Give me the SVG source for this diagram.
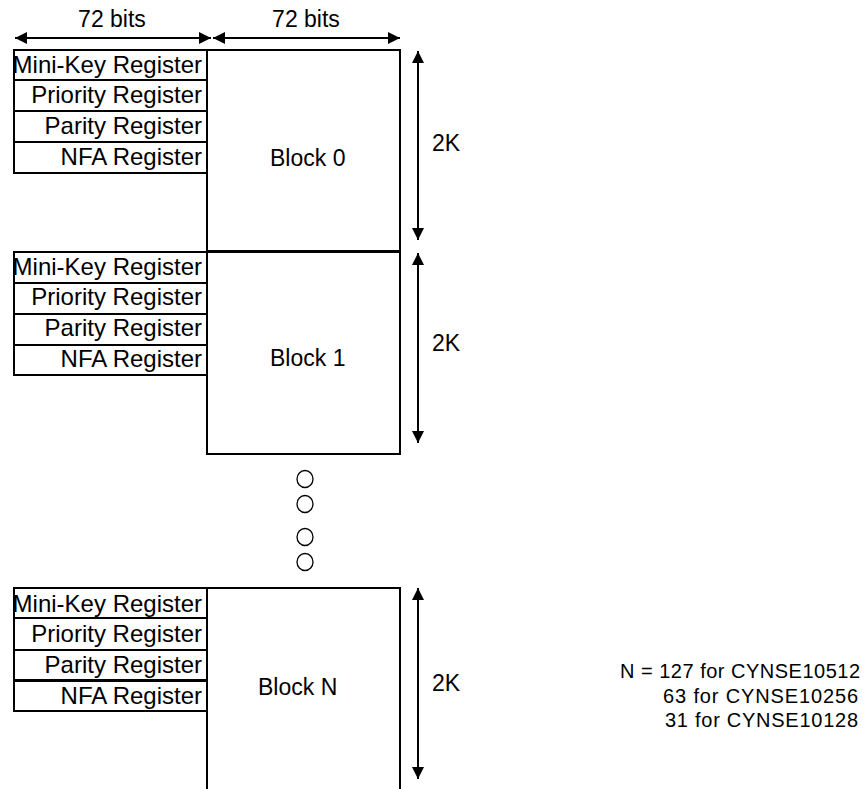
<svg xmlns="http://www.w3.org/2000/svg" width="866" height="789" viewBox="0 0 866 789">
<style>
.box{fill:#fff;stroke:#000;stroke-width:2}
.ln{fill:none;stroke:#000;stroke-width:2}
.reg{font-family:"Liberation Sans",Arial,sans-serif;font-size:24px;fill:#000;text-anchor:end}
.lbl{font-family:"Liberation Sans",Arial,sans-serif;font-size:23px;fill:#000}
.note{font-family:"Liberation Sans",Arial,sans-serif;font-size:20px;fill:#000}
.dot{fill:none;stroke:#000;stroke-width:1.3}
</style>
<defs>
<marker id="ah" viewBox="0 0 12 12" refX="12" refY="6" markerWidth="12" markerHeight="12" markerUnits="userSpaceOnUse" orient="auto-start-reverse">
<path d="M0,0 L12,6 L0,12 z" fill="#000"/>
</marker>
</defs>
<rect width="866" height="789" fill="#fff"/>

<g id="block0">
<rect class="box" x="207" y="50" width="193" height="201"/>
<text class="lbl" x="270" y="166">Block 0</text>
</g>
<g id="regs0">
<rect class="box" x="14" y="50" width="193" height="30"/>
<rect class="box" x="14" y="80" width="193" height="31"/>
<rect class="box" x="14" y="111" width="193" height="31"/>
<rect class="box" x="14" y="142" width="193" height="31"/>
<text class="reg" x="202" y="73">Mini-Key Register</text>
<text class="reg" x="202" y="103">Priority Register</text>
<text class="reg" x="202" y="134">Parity Register</text>
<text class="reg" x="202" y="165">NFA Register</text>
</g>

<g id="block1">
<rect class="box" x="207" y="252" width="193" height="202"/>
<text class="lbl" x="270" y="366">Block 1</text>
</g>
<g id="regs1">
<rect class="box" x="14" y="252" width="193" height="31"/>
<rect class="box" x="14" y="283" width="193" height="31"/>
<rect class="box" x="14" y="314" width="193" height="31"/>
<rect class="box" x="14" y="345" width="193" height="30"/>
<text class="reg" x="202" y="275">Mini-Key Register</text>
<text class="reg" x="202" y="305">Priority Register</text>
<text class="reg" x="202" y="336">Parity Register</text>
<text class="reg" x="202" y="367">NFA Register</text>
</g>

<g id="ellipsis">
<ellipse class="dot" cx="305" cy="479" rx="8" ry="8.5"/>
<ellipse class="dot" cx="305" cy="504" rx="8" ry="8.5"/>
<ellipse class="dot" cx="305" cy="537" rx="8" ry="8.5"/>
<ellipse class="dot" cx="305" cy="562" rx="8" ry="8.5"/>
</g>

<g id="blockN">
<path class="ln" d="M207,789 V588 H400 V789"/>
<text class="lbl" x="258" y="695">Block N</text>
</g>
<g id="regsN">
<rect class="box" x="14" y="588" width="193" height="30"/>
<rect class="box" x="14" y="618" width="193" height="32"/>
<rect class="box" x="14" y="650" width="193" height="30"/>
<rect class="box" x="14" y="681" width="193" height="30"/>
<text class="reg" x="202" y="612">Mini-Key Register</text>
<text class="reg" x="202" y="642">Priority Register</text>
<text class="reg" x="202" y="673">Parity Register</text>
<text class="reg" x="202" y="704">NFA Register</text>
</g>

<g id="connectors">
<line class="ln" x1="15" y1="38" x2="211" y2="38" marker-start="url(#ah)" marker-end="url(#ah)"/>
<line class="ln" x1="213" y1="38" x2="400" y2="38" marker-start="url(#ah)" marker-end="url(#ah)"/>
<line class="ln" x1="418" y1="51" x2="418" y2="240" marker-start="url(#ah)" marker-end="url(#ah)"/>
<line class="ln" x1="418" y1="253" x2="418" y2="443" marker-start="url(#ah)" marker-end="url(#ah)"/>
<line class="ln" x1="418" y1="588" x2="418" y2="779" marker-start="url(#ah)" marker-end="url(#ah)"/>
</g>

<g id="labels">
<text class="lbl" x="112" y="27" text-anchor="middle">72 bits</text>
<text class="lbl" x="306" y="27" text-anchor="middle">72 bits</text>
<text class="lbl" x="432" y="151">2K</text>
<text class="lbl" x="432" y="351">2K</text>
<text class="lbl" x="432" y="691">2K</text>
<text class="note" x="620" y="678" textLength="240" lengthAdjust="spacing">N = 127 for CYNSE10512</text>
<text class="note" x="663" y="703" textLength="195" lengthAdjust="spacing">63 for CYNSE10256</text>
<text class="note" x="665" y="727" textLength="193" lengthAdjust="spacing">31 for CYNSE10128</text>
</g>
</svg>
